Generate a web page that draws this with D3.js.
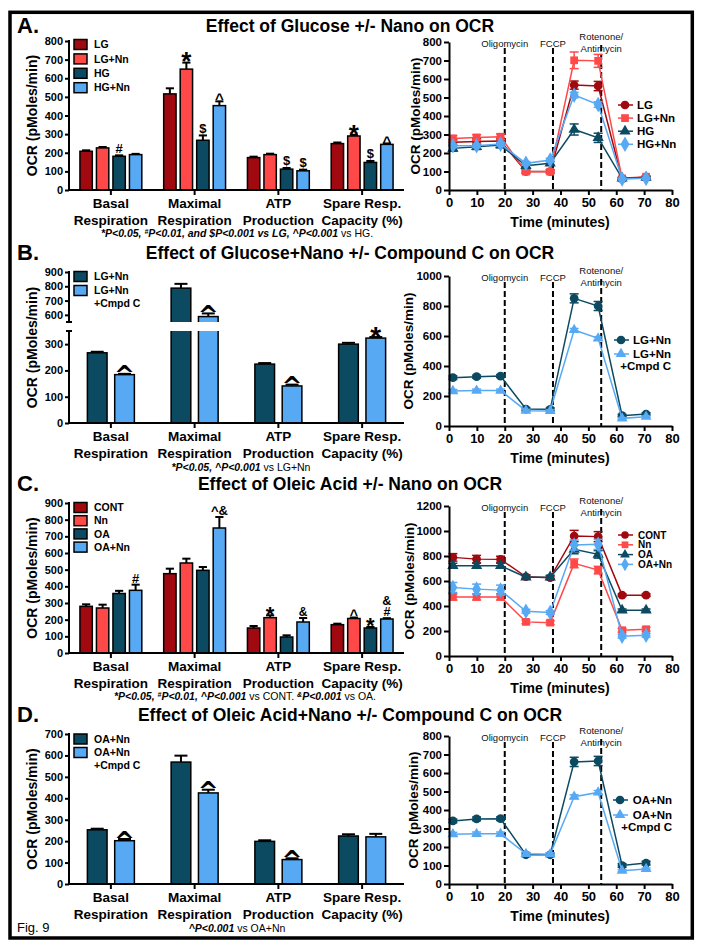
<!DOCTYPE html>
<html><head><meta charset="utf-8">
<script src="https://cdn.jsdelivr.net/npm/d3@7"></script>
<style>
body{margin:0;background:#fff}
svg text{font-family:"Liberation Sans",Arial,Helvetica,sans-serif}
</style></head><body>
<svg id="fig" width="704" height="949"></svg>
<script>
// ---------------- DATA ----------------
const categoryLabels = ["Basal|Respiration","Maximal|Respiration","ATP|Production","Spare Resp.|Capacity (%)"];
const timePoints = [1.4, 9.9, 18.5, 27.6, 36.3, 44.9, 53.5, 62.1, 70.7];
const injectionTimes = [20, 37.3, 54.6];
const injectionLabels = ["Oligomycin","FCCP","Rotenone/|Antimycin"];

// Panel A
const seriesA = ["LG","LG+Nn","HG","HG+Nn"];
const barA = [[208,516,174,249],[226,649,190,290],[181,267,112,148],[190,453,103,245]];
const barErrA = [[5,30,5,6],[5,35,5,6],[5,26,6,8],[4,23,6,5]];
const annA = [[0,2,"#"],[1,1,"*"],[1,2,"$"],[1,3,"^"],[2,2,"$"],[2,3,"$"],[3,1,"*"],[3,2,"$"],[3,3,"^"]];
const lineA = [[258,262,265,100,100,567,562,60,70],[279,284,288,99,99,701,698,63,72],[225,234,243,131,144,327,282,63,67],[239,239,248,144,162,513,462,59,63]];
const lineErrA = [[15,15,15,10,10,22,25,5,5],[15,15,15,10,10,45,35,5,5],[15,15,15,10,10,30,25,5,5],[10,10,10,10,10,15,15,5,5]];
const yTicksBarA = [0,100,200,300,400,500,600,700,800];
const yTicksLineA = [0,100,200,300,400,500,600,700,800];
const footA = [["*P<0.05, ","i"],["#","sup"],["P<0.01, and $P<0.001 vs LG,  ^P<0.001 ","i"],["vs HG.","n"]];

// Panel B
const seriesB = ["LG+Nn","LG+Nn|+Cmpd C"];
const barB = [[267,787,224,300],[184,588,141,323]];
const barErrB = [[4,30,4,5],[3,22,5,4]];
const annB = [[0,1,"^"],[1,1,"^"],[2,1,"^"],[3,1,"*"]];
const lineB = [[322,329,333,113,111,851,800,69,80],[233,236,236,102,100,640,584,51,62]];
const lineErrB = [[12,10,10,10,10,30,30,8,8],[10,10,10,8,8,10,10,5,5]];
const yTicksBarBLow = [0,100,200,300];
const yTicksBarBHigh = [600,700,800,900];
const yTicksLineB = [0,200,400,600,800,1000];
const footB = [["*P<0.05, ^P<0.001 ","i"],["vs LG+Nn","n"]];

// Panel C
const seriesC = ["CONT","Nn","OA","OA+Nn"];
const barC = [[280,476,150,170],[270,540,212,207],[357,496,96,150],[376,750,186,204]];
const barErrC = [[12,30,12,6],[20,26,14,6],[16,20,10,6],[34,66,24,5]];
const annC = [[0,3,"#"],[1,3,"^&"],[2,1,"*"],[2,3,"&"],[3,1,"^"],[3,2,"*"],[3,3,"&|#"]];
const lineC = [[789,775,773,634,626,960,955,487,487],[473,473,473,273,267,741,687,206,214],[722,722,722,631,631,853,813,366,366],[548,535,527,358,348,888,893,158,166]];
const lineErrC = [[30,30,25,15,15,45,40,10,10],[25,25,25,15,15,35,30,15,15],[20,20,20,15,15,35,30,10,10],[40,40,40,15,15,40,40,15,15]];
const yTicksBarC = [0,100,200,300,400,500,600,700,800,900];
const yTicksLineC = [0,200,400,600,800,1000,1200];
const footC = [["*P<0.05, ","i"],["#","sup"],["P<0.01, ^P<0.001 ","i"],["vs CONT. ","n"],["&","sup"],["P<0.001 ","i"],["vs OA.","n"]];

// Panel D
const seriesD = ["OA+Nn","OA+Nn|+Cmpd C"];
const barD = [[253,569,199,224],[202,425,114,220]];
const barErrD = [[5,30,5,8],[8,15,6,14]];
const annD = [[0,1,"^"],[1,1,"^"],[2,1,"^"]];
const lineD = [[341,352,353,158,158,660,665,100,113],[269,271,271,163,161,472,495,72,81]];
const lineErrD = [[10,10,10,10,10,25,25,10,10],[10,10,10,8,8,10,10,5,5]];
const yTicksBarD = [0,100,200,300,400,500,600,700];
const yTicksLineD = [0,100,200,300,400,500,600,700,800];
const footD = [["^P<0.001 ","i"],["vs OA+Nn","n"]];

const titles = ["Effect of Glucose +/- Nano on OCR","Effect of Glucose+Nano +/- Compound C on OCR","Effect of Oleic Acid +/- Nano on OCR","Effect of Oleic Acid+Nano +/- Compound C on OCR"];
const panelLetters = ["A.","B.","C.","D."];

// ---------------- STYLE ----------------
const DRED="#a0090f", RED="#ff4848", TEAL="#0b4a60", LBLUE="#58a9f4";
const svg = d3.select("#fig");
svg.append("rect").attr("width",704).attr("height",949).attr("fill","#fff");
svg.append("rect").attr("x",10).attr("y",12.3).attr("width",682.3).attr("height",925.7)
  .attr("fill","none").attr("stroke","#000").attr("stroke-width",3.5);

function text(g,x,y,s,o={}){
  const t=g.append("text").attr("x",x).attr("y",y).text(s)
    .attr("font-size",o.size||12).attr("font-weight",o.weight||"bold")
    .attr("text-anchor",o.anchor||"start").attr("fill",o.fill||"#000");
  if(o.style) t.attr("font-style",o.style);
  if(o.dy) t.attr("dy",o.dy);
  if(o.family) t.style("font-family",o.family);
  return t;
}

const bottomFrac={"*":0.38,"^":0.34,"$":-0.06,"#":0,"&":0,"^&":0,"&|#":0};

function drawBars(p){
  const g=svg.append("g");
  const x=d3.scaleBand().domain(d3.range(categoryLabels.length)).range([69,404]);
  const n=p.series.length;
  const half=n===4?33:23.5;
  const xi=d3.scaleBand().domain(d3.range(n)).range([-half,half])
    .paddingInner(n===4?0.25:0.28).paddingOuter(n===4?0.125:0);
  const y=p.y, bw=xi.bandwidth();
  const cx=(c,s)=>x(c)+x.bandwidth()/2+xi(s)+bw/2;
  p.values.forEach((vals,s)=>vals.forEach((v,c)=>{
    const xc=cx(c,s), top=y(v+p.errs[s][c]);
    g.append("line").attr("x1",xc).attr("x2",xc).attr("y1",y(v)).attr("y2",top).attr("stroke","#000").attr("stroke-width",2);
    g.append("line").attr("x1",xc-bw*0.33).attr("x2",xc+bw*0.33).attr("y1",top).attr("y2",top).attr("stroke","#000").attr("stroke-width",2);
    g.append("rect").attr("x",xc-bw/2).attr("y",y(v)).attr("width",bw).attr("height",y(0)-y(v))
      .attr("fill",p.colors[s]).attr("stroke","#000").attr("stroke-width",1.5);
  }));
  if(p.gap){
    g.append("rect").attr("x",72).attr("y",y(p.gap[1])).attr("width",332).attr("height",y(p.gap[0])-y(p.gap[1])).attr("fill","#fff");
  }
  // annotations
  p.ann.forEach(a=>{
    const [c,s,sym]=a;
    const sz=p.annSize[sym];
    const top=y(p.values[s][c]+p.errs[s][c]);
    const big = sym==="^" && sz>=20;
    const parts=sym.split("|");
    const lineH=11;
    let base=top-2+(big?0.46:bottomFrac[sym])*sz-(parts.length-1)*lineH;
    const t=g.append("text").attr("x",cx(c,s)).attr("y",base).attr("text-anchor","middle")
      .attr("font-size",sz).attr("font-weight","bold");
    if(big) t.style("font-family","'DejaVu Sans',sans-serif");
    parts.forEach((pt,i)=>t.append("tspan").attr("x",cx(c,s)).attr("dy",i?lineH:0).text(pt));
  });
  // y axis
  p.yAxes.forEach(ax=>{
    const a=g.append("g").attr("transform","translate(69,0)")
      .call(d3.axisLeft(y).tickValues(ax.ticks).tickSize(4).tickPadding(2).tickFormat(d3.format("d")));
    a.select(".domain").remove();
    a.selectAll(".tick line").attr("stroke-width",2);
    a.selectAll(".tick text").attr("font-size",11).attr("font-weight","bold").attr("font-family",null);
    g.append("line").attr("x1",69).attr("x2",69).attr("y1",y(ax.range[0])+ (ax.range[0]===0?1:0)).attr("y2",y(ax.range[1])-1)
      .attr("stroke","#000").attr("stroke-width",2);
    if(ax.breakMarks) ax.breakMarks.forEach(v=>{
      g.append("line").attr("x1",66).attr("x2",72).attr("y1",y(v)).attr("y2",y(v)).attr("stroke","#000").attr("stroke-width",2);
    });
  });
  // x axis
  g.append("line").attr("x1",68).attr("x2",404).attr("y1",y(0)).attr("y2",y(0)).attr("stroke","#000").attr("stroke-width",2);
  categoryLabels.forEach((lab,c)=>{
    const xc=x(c)+x.bandwidth()/2;
    g.append("line").attr("x1",xc).attr("x2",xc).attr("y1",y(0)).attr("y2",y(0)+5).attr("stroke","#000").attr("stroke-width",2);
    lab.split("|").forEach((l,i)=>text(g,xc,y(0)+18+i*17,l,{size:13.5,anchor:"middle"}));
  });
  // y label
  const ym=(y(0)+y(p.yMax))/2;
  text(g,0,0,"OCR (pMoles/min)",{size:14,anchor:"middle",dy:"0.35em"}).attr("transform",`translate(32,${ym}) rotate(-90)`);
  // legend
  p.series.forEach((lab,s)=>{
    const ry=p.leg.y0+s*p.leg.step;
    g.append("rect").attr("x",74).attr("y",ry-5).attr("width",13).attr("height",10)
      .attr("fill",p.colors[s]).attr("stroke","#000").attr("stroke-width",1.5);
    lab.split("|").forEach((l,i)=>text(g,94,ry+i*12.5,l,{size:10.5,dy:"0.36em"}));
  });
}

const symbols=[d3.symbolCircle,d3.symbolSquare,d3.symbolTriangle,d3.symbolDiamond];
function drawLines(p){
  const g=svg.append("g");
  const x=d3.scaleLinear().domain([0,80]).range([449,672]);
  const y=p.y;
  const yTop=y(p.yMax), y0=y(0);
  // injection dashed lines + labels
  injectionTimes.forEach((t,i)=>{
    const xx=x(t);
    const lines=injectionLabels[i].split("|");
    g.append("line").attr("x1",xx).attr("x2",xx).attr("y1",yTop+(lines.length>1?3:6)).attr("y2",y0)
      .attr("stroke","#000").attr("stroke-width",2).attr("stroke-dasharray","6,3");
    if(lines.length===1) text(g,xx,yTop+4.5,lines[0],{size:9.5,weight:"normal",anchor:"middle",fill:"#111"});
    else lines.forEach((l,j)=>text(g,xx,yTop-2.5+j*12,l,{size:9.5,weight:"normal",anchor:"middle",fill:"#111"}));
  });
  // series
  p.values.forEach((vals,s)=>{
    const col=p.colors[s];
    const pts=vals.map((v,i)=>[x(timePoints[i]),y(v)]);
    g.append("path").attr("d",d3.line()(pts)).attr("fill","none").attr("stroke",col).attr("stroke-width",1.5);
    vals.forEach((v,i)=>{
      const e=p.errs[s][i], xx=x(timePoints[i]);
      g.append("line").attr("x1",xx).attr("x2",xx).attr("y1",y(v-e)).attr("y2",y(v+e)).attr("stroke",col).attr("stroke-width",1.5);
      [v-e,v+e].forEach(w=>g.append("line").attr("x1",xx-4.5).attr("x2",xx+4.5).attr("y1",y(w)).attr("y2",y(w)).attr("stroke",col).attr("stroke-width",1.5));
    });
    const sym=d3.symbol().type(symbols[p.sym[s]]).size(p.symSize[s]);
    vals.forEach((v,i)=>g.append("path").attr("d",sym()).attr("transform",`translate(${x(timePoints[i])},${y(v)})`).attr("fill",col));
  });
  // axes
  const ax=g.append("g").attr("transform",`translate(0,${y0})`)
    .call(d3.axisBottom(x).tickValues(d3.range(0,81,10)).tickSize(5).tickSizeOuter(0));
  ax.select(".domain").attr("stroke-width",2);
  ax.selectAll(".tick line").attr("stroke-width",2);
  ax.selectAll(".tick text").attr("font-size",13).attr("font-weight","bold").attr("font-family",null).attr("y",17).attr("dy",0);
  const ay=g.append("g").attr("transform","translate(449,0)")
    .call(d3.axisLeft(y).tickValues(p.yTicks).tickSize(5).tickSizeOuter(0).tickPadding(2).tickFormat(d3.format("d")));
  ay.select(".domain").attr("stroke-width",2);
  ay.selectAll(".tick line").attr("stroke-width",2);
  ay.selectAll(".tick text").attr("font-size",11.5).attr("font-weight","bold").attr("font-family",null);
  text(g,560,y0+37,"Time (minutes)",{size:14,anchor:"middle"});
  text(g,0,0,"OCR (pMoles/min)",{size:13.5,anchor:"middle",dy:"0.35em"}).attr("transform",`translate(${p.ylabX},${(y0+yTop)/2}) rotate(-90)`);
  // legend
  const fs=p.leg.size||11.5;
  p.series.forEach((lab,s)=>{
    const ry=p.leg.y0+s*p.leg.step;
    const col=p.colors[s];
    g.append("line").attr("x1",p.leg.lx-7).attr("x2",p.leg.lx+8).attr("y1",ry).attr("y2",ry).attr("stroke",col).attr("stroke-width",1.5);
    const sym=d3.symbol().type(symbols[p.sym[s]]).size(p.symSize[s]*(p.leg.symScale||1));
    g.append("path").attr("d",sym()).attr("transform",`translate(${p.leg.lx},${ry})`).attr("fill",col);
    lab.split("|").forEach((l,i)=>{
      if(p.leg.anchor==="end") text(g,p.leg.tx,ry+i*11.5,l,{size:fs,anchor:"end",dy:"0.36em"});
      else text(g,p.leg.tx,ry+i*11.5,l,{size:fs,dy:"0.36em"});
    });
  });
}

function footnote(x,y,parts){
  const t=svg.append("text").attr("x",x).attr("y",y).attr("text-anchor","middle").attr("font-size",10.5);
  parts.forEach(([s,k])=>{
    const ts=t.append("tspan").text(s);
    if(k==="i") ts.attr("font-style","italic").attr("font-weight","bold");
    else if(k==="n") ts.attr("font-weight","normal");
    else if(k==="sup") ts.attr("font-size",7).attr("font-style","italic").attr("font-weight","bold").attr("baseline-shift","super");
  });
}

function header(i,yb){
  text(svg,17,yb+1,panelLetters[i],{size:22});
  text(svg,350,yb,titles[i],{size:17.5,anchor:"middle"});
}

// ---------------- PANELS ----------------
// A
header(0,32);
drawBars({series:seriesA,values:barA,errs:barErrA,colors:[DRED,RED,TEAL,LBLUE],
  y:d3.scaleLinear().domain([0,800]).range([190,41]),yMax:800,
  yAxes:[{ticks:yTicksBarA,range:[0,800]}],ann:annA,
  annSize:{"*":26,"$":13,"#":13,"^":15},leg:{y0:44.5,step:14.4}});
drawLines({series:seriesA,values:lineA,errs:lineErrA,colors:[DRED,RED,TEAL,LBLUE],sym:[0,1,2,3],symSize:[60,60,55,70],
  y:d3.scaleLinear().domain([0,800]).range([190,42]),yMax:800,yTicks:yTicksLineA,ylabX:415,
  leg:{lx:625,tx:637,y0:105,step:13.1}});
footnote(237,236.5,footA);

// B
header(1,259);
drawBars({series:seriesB,values:barB,errs:barErrB,colors:[TEAL,LBLUE],
  y:d3.scaleLinear().domain([0,350,550,900]).range([423,331,322,272]),yMax:900,gap:[350,550],
  yAxes:[{ticks:yTicksBarBLow,range:[0,350],breakMarks:[350]},{ticks:yTicksBarBHigh,range:[550,900],breakMarks:[550]}],
  ann:annB,annSize:{"^":25,"*":28},leg:{y0:276.5,step:14}});
drawLines({series:seriesB,values:lineB,errs:lineErrB,colors:[TEAL,LBLUE],sym:[0,2],symSize:[60,50],
  y:d3.scaleLinear().domain([0,1000]).range([426,276]),yMax:1000,yTicks:yTicksLineB,ylabX:408,
  leg:{lx:621,tx:671,y0:340,step:14,anchor:"end"}});
footnote(241,471,footB);

// C
header(2,490);
drawBars({series:seriesC,values:barC,errs:barErrC,colors:[DRED,RED,TEAL,LBLUE],
  y:d3.scaleLinear().domain([0,900]).range([653,503]),yMax:900,
  yAxes:[{ticks:yTicksBarC,range:[0,900]}],ann:annC,
  annSize:{"*":22,"#":13,"&":12,"^":14,"^&":13,"&|#":12.5},leg:{y0:507.5,step:13.2}});
drawLines({series:seriesC,values:lineC,errs:lineErrC,colors:[DRED,RED,TEAL,LBLUE],sym:[0,1,2,3],symSize:[60,60,55,70],
  y:d3.scaleLinear().domain([0,1200]).range([656,506]),yMax:1200,yTicks:yTicksLineC,ylabX:409,
  leg:{lx:625,tx:638,y0:535,step:9.8,size:10,symScale:0.75}});
footnote(245,700,footC);

// D
header(3,721);
drawBars({series:seriesD,values:barD,errs:barErrD,colors:[TEAL,LBLUE],
  y:d3.scaleLinear().domain([0,700]).range([884,734]),yMax:700,
  yAxes:[{ticks:yTicksBarD,range:[0,700]}],ann:annD,annSize:{"^":25},leg:{y0:739,step:13.5}});
drawLines({series:seriesD,values:lineD,errs:lineErrD,colors:[TEAL,LBLUE],sym:[0,2],symSize:[60,50],
  y:d3.scaleLinear().domain([0,800]).range([884,736]),yMax:800,yTicks:yTicksLineD,ylabX:413,
  leg:{lx:620,tx:672,y0:800,step:15,anchor:"end"}});
footnote(237,932,footD);
text(svg,17,932,"Fig. 9",{size:13,weight:"normal"});
</script>
</body></html>
